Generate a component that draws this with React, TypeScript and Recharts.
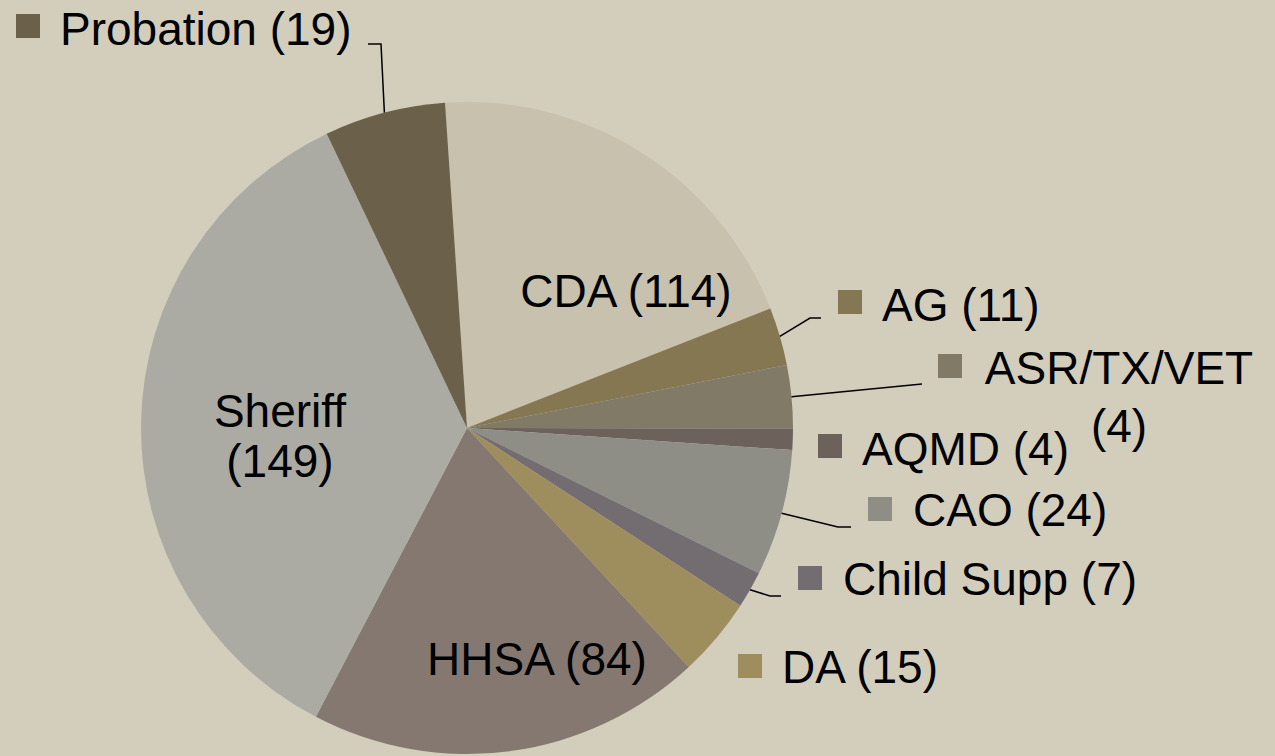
import React from 'react';
import { PieChart, Pie, Cell } from 'recharts';

// departments in clockwise order, starting at 12 o'clock
const departments = ['CDA', 'AG', 'ASR/TX/VET', 'AQMD', 'CAO', 'Child Supp', 'DA', 'HHSA', 'Sheriff', 'Probation'];
// counts printed in the labels
const labelCounts = [114, 11, 4, 4, 24, 7, 15, 84, 149, 19];
// slice sizes as drawn
const sliceValues = [77, 11, 12, 4, 24, 7, 15, 75, 135, 23];
const sliceColors = [
  '#C8C1AE',
  '#857752',
  '#817A67',
  '#6D625B',
  '#8E8E87',
  '#736D72',
  '#9E8D5D',
  '#857870',
  '#ABABA4',
  '#6B604A',
];

const data = departments.map((name, i) => ({
  name,
  count: labelCounts[i],
  value: sliceValues[i],
}));

type LabelLayout =
  | { kind: 'inside'; x: number; y: number; wrap?: boolean; lineGap?: number }
  | {
      kind: 'outside';
      sqX: number;
      sqY: number;
      textX: number;
      textY: number;
      wrapCenter?: number;
      lineGap?: number;
      leader?: [number, number][];
    };

// label placement, same order as departments
const labelLayout: LabelLayout[] = [
  { kind: 'inside', x: 626, y: 307 },
  { kind: 'outside', sqX: 838, sqY: 290, textX: 882, textY: 321, leader: [[810, 318], [821, 318]] },
  { kind: 'outside', sqX: 938, sqY: 354, textX: 982, textY: 384, wrapCenter: 1119, lineGap: 58, leader: [[922, 384]] },
  { kind: 'outside', sqX: 818, sqY: 434, textX: 862, textY: 465 },
  { kind: 'outside', sqX: 868, sqY: 497, textX: 913, textY: 526, leader: [[838, 527], [851, 527]] },
  { kind: 'outside', sqX: 798, sqY: 566, textX: 843, textY: 595, leader: [[770, 596], [781, 596]] },
  { kind: 'outside', sqX: 738, sqY: 654, textX: 782, textY: 683 },
  { kind: 'inside', x: 537, y: 675 },
  { kind: 'inside', x: 280, y: 427, wrap: true, lineGap: 50 },
  { kind: 'outside', sqX: 16, sqY: 14, textX: 60, textY: 45, leader: [[381, 44], [368, 44]] },
];

const RADIAN = Math.PI / 180;
const FONT = '"Liberation Sans", Arial, sans-serif';
const FONT_SIZE = 46;

const renderLabel = (props: any) => {
  const { cx, cy, midAngle, outerRadius, index } = props;
  const layout = labelLayout[index];
  const item = data[index];
  const full = `${item.name} (${item.count})`;

  if (layout.kind === 'inside') {
    if (layout.wrap) {
      return (
        <text x={layout.x} y={layout.y} textAnchor="middle" fontFamily={FONT} fontSize={FONT_SIZE} fill="#000">
          <tspan x={layout.x} y={layout.y}>{item.name}</tspan>
          <tspan x={layout.x} y={layout.y + (layout.lineGap ?? 50)}>{`(${item.count})`}</tspan>
        </text>
      );
    }
    return (
      <text x={layout.x} y={layout.y} textAnchor="middle" fontFamily={FONT} fontSize={FONT_SIZE} fill="#000">
        {full}
      </text>
    );
  }

  const ex = cx + outerRadius * Math.cos(-midAngle * RADIAN);
  const ey = cy + outerRadius * Math.sin(-midAngle * RADIAN);
  const points = layout.leader ? [[ex, ey], ...layout.leader].map((p) => p.join(',')).join(' ') : null;

  return (
    <g>
      {points && <polyline points={points} fill="none" stroke="#000" strokeWidth={1.5} />}
      <rect x={layout.sqX} y={layout.sqY} width={24} height={24} fill={sliceColors[index]} />
      {layout.wrapCenter ? (
        <text textAnchor="middle" fontFamily={FONT} fontSize={FONT_SIZE} fill="#000">
          <tspan x={layout.wrapCenter} y={layout.textY}>{item.name}</tspan>
          <tspan x={layout.wrapCenter} y={layout.textY + (layout.lineGap ?? 50)}>{`(${item.count})`}</tspan>
        </text>
      ) : (
        <text x={layout.textX} y={layout.textY} fontFamily={FONT} fontSize={FONT_SIZE} fill="#000">
          {full}
        </text>
      )}
    </g>
  );
};

const App: React.FC = () => {
  return (
    <div
      style={{
        position: 'absolute',
        left: 0,
        top: 0,
        width: 1275,
        height: 756,
        background: '#D3CDBC',
        overflow: 'hidden',
      }}
    >
      <PieChart width={1275} height={756} margin={{ top: 0, right: 0, bottom: 0, left: 0 }}>
        <Pie
          data={data}
          dataKey="value"
          nameKey="name"
          cx={467}
          cy={428}
          outerRadius={326}
          startAngle={93.87}
          endAngle={-266.13}
          stroke="none"
          label={renderLabel}
          labelLine={false}
          isAnimationActive={false}
        >
          {data.map((d, i) => (
            <Cell key={d.name} fill={sliceColors[i]} />
          ))}
        </Pie>
      </PieChart>
    </div>
  );
};

export default App;
